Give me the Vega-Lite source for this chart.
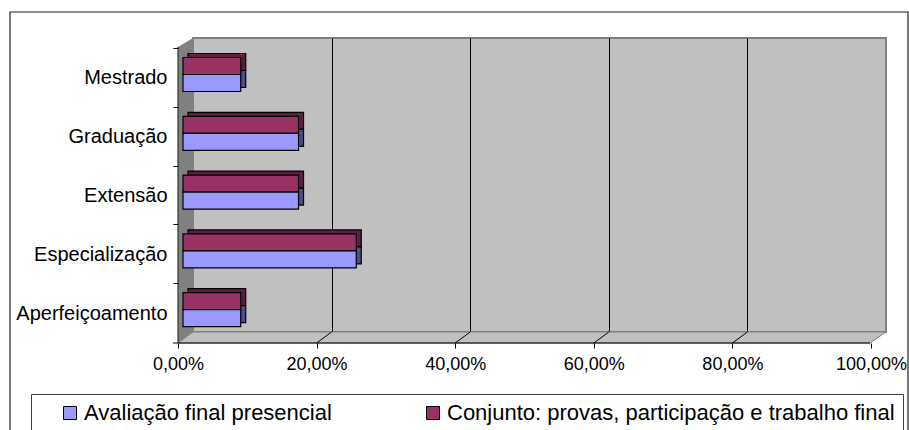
{
  "$schema": "https://vega.github.io/schema/vega-lite/v6.json",
  "width": 693,
  "height": 294,
  "autosize": {"type": "none"},
  "padding": {"left": 193, "top": 38, "right": 23, "bottom": 98},
  "background": "white",
  "config": {
    "font": "Liberation Sans",
    "view": {"fill": "#C0C0C0", "stroke": "#808080", "strokeWidth": 2},
    "axis": {"labelFont": "Liberation Sans", "titleFont": "Liberation Sans"},
    "legend": {"labelFont": "Liberation Sans"}
  },
  "data": {
    "values": [
      {"curso": "Mestrado", "serie": "Avaliação final presencial", "valor": 0.0833},
      {"curso": "Mestrado", "serie": "Conjunto: provas, participação e trabalho final", "valor": 0.0833},
      {"curso": "Graduação", "serie": "Avaliação final presencial", "valor": 0.1667},
      {"curso": "Graduação", "serie": "Conjunto: provas, participação e trabalho final", "valor": 0.1667},
      {"curso": "Extensão", "serie": "Avaliação final presencial", "valor": 0.1667},
      {"curso": "Extensão", "serie": "Conjunto: provas, participação e trabalho final", "valor": 0.1667},
      {"curso": "Especialização", "serie": "Avaliação final presencial", "valor": 0.25},
      {"curso": "Especialização", "serie": "Conjunto: provas, participação e trabalho final", "valor": 0.25},
      {"curso": "Aperfeiçoamento", "serie": "Avaliação final presencial", "valor": 0.0833},
      {"curso": "Aperfeiçoamento", "serie": "Conjunto: provas, participação e trabalho final", "valor": 0.0833}
    ]
  },
  "resolve": {"axis": {"x": "independent", "y": "independent"}},
  "layer": [
    {
      "description": "chart area border",
      "data": {"values": [{}]},
      "mark": {"type": "rect", "filled": false, "stroke": "#222222", "strokeWidth": 1.2, "xOffset": -183, "x2Offset": 22, "yOffset": -26, "y2Offset": 120},
      "encoding": {
        "x": {"datum": 0, "type": "quantitative", "axis": null},
        "x2": {"datum": 1},
        "y": {"value": 0},
        "y2": {"value": "height"}
      }
    },
    {
      "description": "left side wall of the 3-D plot box",
      "data": {"values": [{}]},
      "mark": {"type": "point", "shape": "M -15 9 L 0 0 L 0 294 L -15 305 Z", "size": 4, "filled": true, "fill": "#808080", "opacity": 1, "strokeWidth": 0},
      "encoding": {
        "x": {"datum": 0, "type": "quantitative", "axis": null},
        "y": {"value": 0}
      }
    },
    {
      "description": "floor of the 3-D plot box",
      "data": {"values": [{}]},
      "mark": {"type": "point", "shape": "M 0 0 L 693 0 L 677 11 L -15 11 Z", "size": 4, "filled": true, "fill": "#C0C0C0", "stroke": "#808080", "strokeWidth": 1, "opacity": 1},
      "encoding": {
        "x": {"datum": 0, "type": "quantitative", "axis": null},
        "y": {"value": "height"}
      }
    },
    {
      "description": "gridlines continued across the floor",
      "data": {"values": [{"p": 0.2}, {"p": 0.4}, {"p": 0.6}, {"p": 0.8}]},
      "mark": {"type": "rule", "color": "black", "strokeWidth": 1, "x2Offset": -15, "y2Offset": 11},
      "encoding": {
        "x": {"field": "p", "type": "quantitative", "axis": null},
        "x2": {"field": "p"},
        "y": {"value": "height"},
        "y2": {"value": "height"}
      }
    },
    {
      "description": "front edge of the floor (category axis baseline)",
      "data": {"values": [{}]},
      "mark": {"type": "rule", "color": "black", "strokeWidth": 1, "xOffset": -20, "x2Offset": -16, "yOffset": 11, "y2Offset": 11},
      "encoding": {
        "x": {"datum": 0, "type": "quantitative", "axis": null},
        "x2": {"datum": 1},
        "y": {"value": "height"},
        "y2": {"value": "height"}
      }
    },
    {
      "description": "front edge of the left wall",
      "data": {"values": [{}]},
      "mark": {"type": "rule", "color": "#333333", "strokeWidth": 1.2, "xOffset": -15, "x2Offset": -15, "yOffset": 9, "y2Offset": 11},
      "encoding": {
        "x": {"datum": 0, "type": "quantitative", "axis": null},
        "x2": {"datum": 0},
        "y": {"value": 0},
        "y2": {"value": "height"}
      }
    },
    {
      "description": "depth faces, Conjunto series",
      "transform": [{"filter": "datum.serie == 'Conjunto: provas, participação e trabalho final'"}],
      "mark": {"type": "bar", "height": 17, "fill": "#5E1F3F", "stroke": "black", "strokeWidth": 1.2, "xOffset": -5, "x2Offset": -5, "yOffset": -5.4},
      "encoding": {
        "x": {
          "field": "valor", "type": "quantitative",
          "scale": {"domain": [0, 1], "nice": false},
          "axis": {"orient": "bottom", "values": [0.2, 0.4, 0.6, 0.8], "grid": true, "gridColor": "black", "gridWidth": 1, "gridOpacity": 1, "labels": false, "ticks": false, "domain": false, "title": null, "zindex": 0}
        },
        "y": {
          "field": "curso", "type": "nominal",
          "sort": ["Mestrado", "Graduação", "Extensão", "Especialização", "Aperfeiçoamento"],
          "scale": {"paddingInner": 0, "paddingOuter": 0},
          "axis": {"orient": "left", "bandPosition": 0, "offset": 15, "tickOffset": 10, "labels": false, "domain": false, "grid": false, "ticks": true, "tickSize": 5, "tickColor": "black", "tickWidth": 1, "title": null, "zindex": 1}
        }
      }
    },
    {
      "description": "depth faces, Avaliação series",
      "transform": [{"filter": "datum.serie == 'Avaliação final presencial'"}],
      "mark": {"type": "bar", "height": 17, "fill": "#4D4D80", "stroke": "black", "strokeWidth": 1.2, "xOffset": -5, "x2Offset": -5, "yOffset": 11.6},
      "encoding": {
        "x": {"field": "valor", "type": "quantitative", "axis": null},
        "y": {"field": "curso", "type": "nominal", "sort": ["Mestrado", "Graduação", "Extensão", "Especialização", "Aperfeiçoamento"], "axis": null}
      }
    },
    {
      "description": "front faces, Conjunto series",
      "transform": [{"filter": "datum.serie == 'Conjunto: provas, participação e trabalho final'"}],
      "mark": {"type": "bar", "height": 17, "stroke": "black", "strokeWidth": 1.2, "opacity": 1, "xOffset": -10, "x2Offset": -10, "yOffset": -1.4},
      "encoding": {
        "x": {
          "field": "valor", "type": "quantitative",
          "axis": {"orient": "bottom", "values": [0, 0.2, 0.4, 0.6, 0.8, 1], "offset": 11, "tickOffset": -15, "domain": false, "grid": false, "ticks": true, "tickSize": 5, "tickColor": "black", "tickWidth": 1, "labelFontSize": 18, "labelColor": "black", "labelPadding": 7, "labelFlush": false, "labelOverlap": false, "labelBound": false, "labelExpr": "replace(format(datum.value, '.2%'), '.', ',')", "title": null, "zindex": 1}
        },
        "y": {
          "field": "curso", "type": "nominal",
          "sort": ["Mestrado", "Graduação", "Extensão", "Especialização", "Aperfeiçoamento"],
          "axis": {"orient": "left", "offset": 15, "tickOffset": 10.5, "ticks": false, "domain": false, "grid": false, "labelPadding": 11, "labelFontSize": 20, "labelColor": "black", "labelLimit": 200, "title": null, "zindex": 1}
        },
        "color": {
          "field": "serie", "type": "nominal",
          "scale": {"domain": ["Avaliação final presencial", "Conjunto: provas, participação e trabalho final"], "range": ["#9999FF", "#993366"]},
          "legend": {"orient": "none", "legendX": -162, "legendY": 356, "direction": "horizontal", "columns": 2, "title": null, "strokeColor": "#404040", "fillColor": "white", "padding": 8, "symbolType": "square", "symbolSize": 169, "symbolStrokeColor": "black", "symbolStrokeWidth": 1, "symbolOpacity": 1, "symbolOffset": 20, "labelFontSize": 22, "labelColor": "black", "labelOffset": 3, "labelLimit": 600, "columnPadding": 70}
        }
      }
    },
    {
      "description": "front faces, Avaliação series",
      "transform": [{"filter": "datum.serie == 'Avaliação final presencial'"}],
      "mark": {"type": "bar", "height": 17, "stroke": "black", "strokeWidth": 1.2, "opacity": 1, "xOffset": -10, "x2Offset": -10, "yOffset": 15.6},
      "encoding": {
        "x": {"field": "valor", "type": "quantitative", "axis": null},
        "y": {"field": "curso", "type": "nominal", "sort": ["Mestrado", "Graduação", "Extensão", "Especialização", "Aperfeiçoamento"], "axis": null},
        "color": {"field": "serie", "type": "nominal"}
      }
    }
  ]
}
